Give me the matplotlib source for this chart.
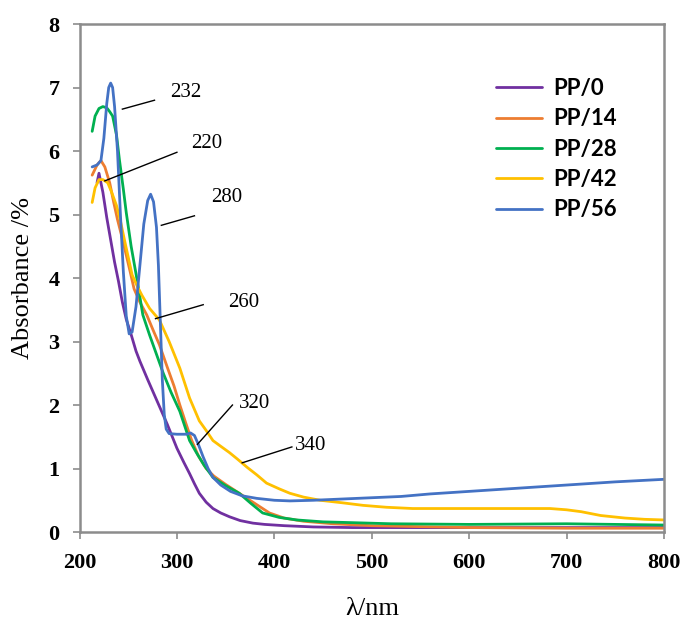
import matplotlib
matplotlib.use("Agg")
import matplotlib.pyplot as plt

# wavelength (nm) / absorbance
x_pp0 = [218, 220, 224, 228, 232, 236, 240, 244, 248, 253, 258, 262, 270, 280, 290, 300, 307, 313, 318, 323, 330, 337, 345, 354, 365, 378, 390, 410, 440, 480, 550, 650, 800]
y_pp0 = [5.5, 5.65, 5.35, 4.95, 4.6, 4.25, 3.95, 3.62, 3.35, 3.11, 2.85, 2.69, 2.4, 2.05, 1.7, 1.32, 1.1, 0.92, 0.76, 0.61, 0.47, 0.37, 0.3, 0.24, 0.18, 0.14, 0.12, 0.1, 0.08, 0.07, 0.07, 0.07, 0.07]

x_pp14 = [213, 218, 222, 226, 231, 235, 239, 244, 248, 252, 256, 262, 269, 275, 282, 290, 297, 303, 309, 315, 322, 330, 338, 350, 365, 380, 395, 410, 430, 460, 500, 600, 700, 800]
y_pp14 = [5.62, 5.78, 5.85, 5.75, 5.5, 5.2, 4.92, 4.62, 4.36, 4.1, 3.83, 3.62, 3.42, 3.2, 2.95, 2.6, 2.3, 2.0, 1.72, 1.45, 1.2, 1.0, 0.88, 0.75, 0.6, 0.45, 0.3, 0.22, 0.17, 0.13, 0.1, 0.07, 0.06, 0.06]

x_pp28 = [213, 216, 220, 224, 228, 231, 234, 238, 241, 245, 248, 253, 259, 265, 272, 279, 286, 294, 303, 313, 320, 328, 337, 350, 364, 376, 388, 405, 423, 450, 474, 520, 600, 700, 800]
y_pp28 = [6.31, 6.55, 6.67, 6.7, 6.68, 6.62, 6.55, 6.25, 5.86, 5.4, 5.03, 4.5, 3.98, 3.42, 3.1, 2.8, 2.5, 2.2, 1.9, 1.44, 1.25, 1.05, 0.86, 0.73, 0.61, 0.45, 0.3, 0.23, 0.19, 0.16, 0.15, 0.13, 0.12, 0.13, 0.11]

x_pp42 = [213, 216, 220, 224, 229, 233, 238, 242, 246, 250, 254, 259, 264, 272, 282, 292, 303, 313, 323, 330, 337, 345, 354, 362, 372, 382, 392, 405, 416, 430, 447, 470, 491, 515, 542, 600, 650, 683, 700, 715, 735, 760, 780, 800]
y_pp42 = [5.19, 5.42, 5.55, 5.55, 5.5, 5.35, 5.14, 4.9, 4.61, 4.33, 4.05, 3.88, 3.73, 3.52, 3.34, 3.0, 2.58, 2.11, 1.75, 1.6, 1.44, 1.35, 1.25, 1.15, 1.02, 0.9, 0.77, 0.68, 0.61, 0.55, 0.5, 0.46, 0.42, 0.39, 0.37, 0.37, 0.37, 0.37, 0.35, 0.32, 0.26, 0.22, 0.2, 0.19]

x_pp56 = [213, 218, 222, 225, 228, 230, 232, 234, 236, 239, 242, 245, 248, 251, 254, 258, 262, 266, 270, 273, 276, 279, 281, 283, 285, 287, 289, 292, 300, 310, 314, 318, 322, 327, 332, 337, 345, 355, 367, 382, 400, 416, 440, 470, 500, 530, 560, 600, 650, 700, 750, 800]
y_pp56 = [5.75, 5.78, 5.85, 6.2, 6.75, 7.0, 7.07, 7.0, 6.7, 6.0, 5.0, 4.1, 3.4, 3.12, 3.15, 3.55, 4.2, 4.85, 5.22, 5.32, 5.2, 4.8, 4.2, 3.3, 2.4, 1.85, 1.62, 1.55, 1.54, 1.54, 1.56, 1.52, 1.38, 1.18, 1.0, 0.86, 0.74, 0.64, 0.57, 0.53, 0.5, 0.49, 0.5, 0.52, 0.54, 0.56, 0.6, 0.64, 0.69, 0.74, 0.79, 0.83]

series_names = ["PP/0", "PP/14", "PP/28", "PP/42", "PP/56"]
series_colors = ["#7030A0", "#ED7D31", "#00B050", "#FFC000", "#4472C4"]

# peak labels: text, line start/end, text position
peak_labels = ["232", "220", "280", "260", "320", "340"]
peak_line_x = [(244, 277), (226, 300), (284, 318), (278, 327), (321, 357), (367, 418)]
peak_line_y = [(6.66, 6.80), (5.53, 5.98), (4.83, 4.98), (3.36, 3.58), (1.38, 2.0), (1.09, 1.34)]
peak_text_xy = [(309, 6.92), (331, 6.12), (351, 5.27), (369, 3.62), (380, 2.03), (437, 1.36)]

fig = plt.figure(figsize=(6.83, 6.24), dpi=100)
ax = fig.add_axes([0.1164, 0.1474, 0.8558, 0.8141])

xs = [x_pp0, x_pp14, x_pp28, x_pp42, x_pp56]
ys = [y_pp0, y_pp14, y_pp28, y_pp42, y_pp56]
for x, y, name, c in zip(xs, ys, series_names, series_colors):
    ax.plot(x, y, color=c, lw=2.0, label=name, solid_joinstyle="round", solid_capstyle="round")

for t, lx, ly, (tx, ty) in zip(peak_labels, peak_line_x, peak_line_y, peak_text_xy):
    ax.plot(lx, ly, color="black", lw=1.0)
    ax.text(tx, ty, t, family="Liberation Serif", fontsize=15, ha="center", va="center")

ax.set_xlim(200, 800)
ax.set_ylim(0, 8)
ax.set_xticks(range(200, 801, 100))
ax.set_yticks(range(0, 9))
for s in ax.spines.values():
    s.set_color("#8c8c8c")
    s.set_linewidth(1.8)
ax.tick_params(direction="out", length=5, width=1.2, color="#8c8c8c")
ax.tick_params(axis="y", pad=9.5)
ax.tick_params(axis="x", pad=10)
for lab in ax.get_xticklabels() + ax.get_yticklabels():
    lab.set_family("Liberation Serif")
    lab.set_fontweight("bold")
    lab.set_fontsize(16)

ax.set_xlabel("λ/nm", family="Liberation Serif", fontsize=19, labelpad=18)
ax.set_ylabel("Absorbance /%", family="Liberation Serif", fontsize=19, labelpad=10)

leg = ax.legend(loc="upper left", bbox_to_anchor=(0.678, 0.933), frameon=False,
                prop={"family": "Lato", "weight": "bold", "size": 16},
                handlelength=2.07, labelspacing=0.42, handletextpad=0.5)

fig.savefig("out.png", dpi=100)
